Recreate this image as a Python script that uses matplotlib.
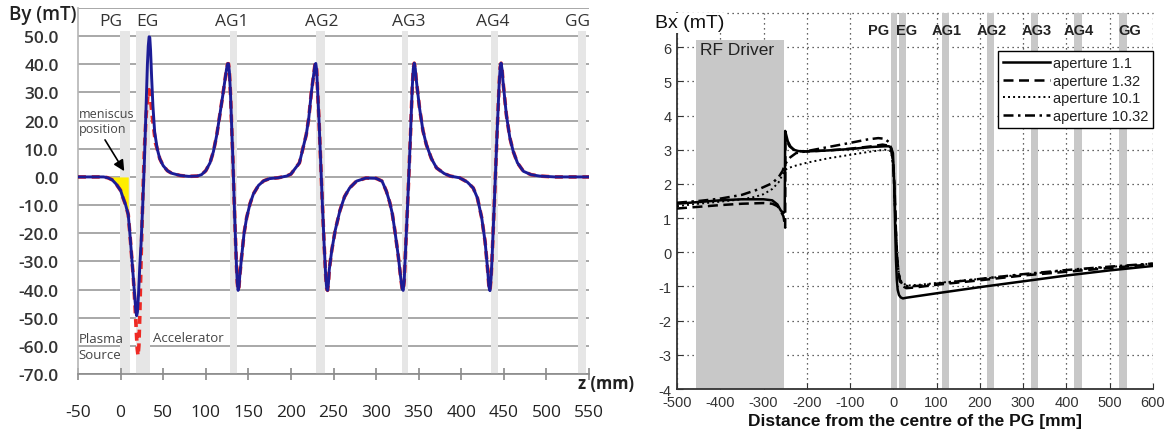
import numpy as np
import matplotlib
matplotlib.use("Agg")
import matplotlib.pyplot as plt
from matplotlib.patches import Rectangle

plt.rcParams['axes.unicode_minus'] = False

# ------------------------- Left panel data (By along z) -------------------------
by_z = [-50, -30, -20, -15, -10, -5, 0, 3, 6, 9, 11, 13, 15, 17, 18, 18.9, 19.8, 21, 22.5,
        24, 26, 28, 30, 31.5, 32.5, 33.5, 34.3, 35.2, 36.5, 38, 40, 43, 46, 50, 55, 60,
        70, 80, 90, 95, 100, 105, 109, 113, 117, 120, 123, 124.5, 125.7, 126.7, 127.7,
        129, 130.5, 132, 134, 136, 137, 138, 139, 140, 142, 145, 148, 152, 156, 162, 168,
        175, 185, 195, 200, 205, 210, 214, 218, 221, 224, 227, 228.2, 229.2, 230.2, 231,
        233, 235, 237, 239, 241, 242, 243, 244, 245, 248, 252, 257.5, 263, 269, 277, 288,
        300, 307, 312, 316, 319, 322, 326, 329, 330.7, 331.8, 333, 334, 337, 340, 342.5,
        343.7, 344.8, 346, 347, 351, 355, 359, 365, 371, 380, 387, 398, 407, 414, 419,
        424, 428, 431, 432.5, 433.7, 435, 436, 439, 442, 444.5, 445.7, 446.8, 448, 449,
        453, 457, 461, 466, 473, 482, 492, 510, 550]
by_blue = [0, 0, 0, -0.3, -1.0, -2.6, -4.8, -7.5, -10.0, -13.4, -20.4, -28, -36, -44, -48,
           -49.3, -48, -42, -32, -24, -10, 6, 25, 40, 46.5, 49.8, 49.5, 45, 35, 25, 16, 10,
           6.5, 4, 2.2, 1.3, 0.5, 0.2, 0.3, 0.8, 2.2, 5, 9, 15, 23, 29, 35.5, 38.5, 40.2,
           40.2, 37.5, 30, 18, 5, -14.5, -31, -37.5, -40.3, -39, -35, -28.7, -20, -14.5,
           -9.5, -6, -3, -1.4, -0.6, -0.3, 0.3, 1, 3, 5, 10, 15, 21, 30, 37, 39.8, 40.3, 38,
           33, 20, 5, -10, -24, -36, -39.5, -40.3, -38, -33, -26, -19, -12, -7, -3.9, -1.5,
           -0.4, -0.5, -1.5, -5, -9, -13, -19, -28, -36, -39.8, -40.3, -37, -30, -10, 12,
           32, 38.5, 40.4, 38.5, 35, 24.5, 16.5, 11.5, 6.5, 3.2, 1.2, 0.3, -0.3, -1.8,
           -3.9, -7.5, -14.5, -23, -33, -39, -40.4, -36, -30, -8, 15, 33, 39, 40.4, 38,
           34, 22, 14, 9.1, 5, 2, 0.8, 0.3, 0, 0]
# red dashed curve differs from blue only around the EG
red_eg_z = [13, 15, 17, 18.5, 19.5, 20.5, 21.5, 22.5, 24, 26, 28, 30, 32, 33.5, 35, 37,
            39, 41, 43]
red_eg_by = [-28, -36, -46, -55, -61, -63.5, -60, -50, -30, -8, 10, 22, 29, 31, 28, 22,
             17, 12, 10]

left_xticks = list(range(-50, 551, 50))
left_yticks = list(range(-70, 61, 10))
left_gap_names = ['PG', 'EG', 'AG1', 'AG2', 'AG3', 'AG4', 'GG']
left_gap_lo = [-0.5, 18, 128, 230, 330, 435, 537]
left_gap_hi = [10.5, 34, 137, 240, 338, 443, 547]
left_label_x = [-12, 32, 130, 236, 338, 437, 536]
meniscus_lo, meniscus_hi = -18, 9.5

# ------------------------- Right panel data (Bx) -------------------------
bx_11_x = [-500, -450, -400, -350, -300, -280, -268, -260, -254, -251, -250, -248, -244,
           -238, -230, -220, -200, -150, -100, -50, -20, -10, -5, -1, 2, 4, 6, 8, 10, 13,
           17, 22, 30, 46, 100, 200, 300, 400, 500, 600]
bx_11_y = [1.42, 1.47, 1.52, 1.55, 1.55, 1.52, 1.4, 1.22, 1.15, 1.2, 3.55, 3.45, 3.25,
           3.1, 3.0, 2.96, 2.95, 2.98, 3.02, 3.08, 3.1, 3.1, 3.05, 2.9, 2.0, 0.8, -0.2,
           -0.8, -1.1, -1.25, -1.32, -1.35, -1.33, -1.3, -1.2, -1.02, -0.85, -0.68, -0.53,
           -0.4]
bx_132_x = [-500, -450, -400, -350, -300, -280, -268, -260, -254, -252, -250, -249.5, -246,
            -240, -230, -220, -200, -150, -100, -50, -25, -12, -5, 0, 3, 6, 9, 12, 15, 20,
            30, 50, 100, 200, 300, 400, 500, 600]
bx_132_y = [1.28, 1.33, 1.38, 1.42, 1.44, 1.42, 1.35, 1.2, 1.05, 0.9, 0.72, 3.3, 3.25,
            3.1, 3.0, 2.96, 2.95, 2.98, 3.03, 3.1, 3.15, 3.12, 3.0, 2.6, 1.8, 0.6, -0.2,
            -0.6, -0.85, -0.98, -1.05, -1.03, -0.95, -0.82, -0.68, -0.57, -0.46, -0.35]
bx_101_x = [-500, -450, -400, -350, -320, -300, -280, -265, -255, -251, -245, -230, -200,
            -150, -100, -50, -20, -8, -3, 0, 3, 6, 9, 12, 16, 22, 35, 60, 100, 200, 300,
            400, 500, 600]
bx_101_y = [1.35, 1.42, 1.48, 1.55, 1.62, 1.7, 1.85, 2.05, 2.3, 2.4, 2.45, 2.52, 2.62,
            2.75, 2.85, 2.95, 3.0, 2.98, 2.8, 2.4, 1.5, 0.5, -0.2, -0.55, -0.8, -0.92,
            -0.97, -0.95, -0.9, -0.78, -0.65, -0.53, -0.43, -0.33]
bx_1032_x = [-500, -450, -400, -350, -310, -280, -265, -256, -251, -245, -238, -225, -200,
             -150, -100, -60, -35, -20, -10, -4, 0, 3, 6, 9, 12, 16, 22, 35, 60, 100, 200,
             300, 400, 500, 600]
bx_1032_y = [1.45, 1.5, 1.57, 1.68, 1.85, 2.02, 2.2, 2.38, 2.55, 2.68, 2.78, 2.9, 2.96,
             3.08, 3.2, 3.3, 3.34, 3.32, 3.22, 3.0, 2.5, 1.6, 0.6, -0.2, -0.6, -0.85,
             -0.95, -1.0, -0.98, -0.92, -0.78, -0.64, -0.52, -0.42, -0.33]
right_labels = ['aperture 1.1', 'aperture 1.32', 'aperture 10.1', 'aperture 10.32']
right_gap_names = ['PG', 'EG', 'AG1', 'AG2', 'AG3', 'AG4', 'GG']
right_gap_lo = [-5, 13, 112, 216, 318, 418, 521]
right_gap_hi = [8, 29, 128, 232, 334, 436, 540]
right_label_x = [-34, 31, 124, 228, 332, 429, 547]
rf_lo, rf_hi, rf_top = -455, -253, 6.2

# ------------------------- Figure -------------------------
fig = plt.figure(figsize=(11.7, 4.35), dpi=100)

# ===== Left panel =====
LF = 'Open Sans'
ax = fig.add_axes([78 / 1170, 1 - 375 / 435, (589 - 78) / 1170, (375 - 9) / 435])
ax.set_xlim(-50, 550)
ax.set_ylim(-70, 60)
for s in ['top', 'right']:
    ax.spines[s].set_visible(False)
ax.spines['left'].set_color('#b5b5b5')
ax.spines['left'].set_linewidth(1.2)
ax.spines['bottom'].set_color('#8a8a8a')
ax.spines['bottom'].set_linewidth(1.2)
for v in left_yticks:
    ax.axhline(v, color='#9a9a9a', lw=1.2, zorder=1)

for lo, hi in zip(left_gap_lo, left_gap_hi):
    ax.add_patch(Rectangle((lo, -70), hi - lo, 122, facecolor='#e6e6e6',
                           edgecolor='none', zorder=1.5))
for name, xl in zip(left_gap_names, left_label_x):
    ax.text(xl, 55.5, name, ha='center', va='center', fontsize=12.5,
            family=LF, color='#333333', zorder=5)

bz = np.array(by_z, dtype=float)
bb = np.array(by_blue, dtype=float)
# meniscus region
m = (bz >= meniscus_lo) & (bz <= meniscus_hi)
ax.fill_between(bz[m], 0, bb[m], color='#ffee00', zorder=2, linewidth=0)

rz_lo, rz_hi = red_eg_z[0], red_eg_z[-1]
red_z = [z for z in by_z if z < rz_lo] + red_eg_z + [z for z in by_z if z > rz_hi]
red_b = [b for z, b in zip(by_z, by_blue) if z < rz_lo] + red_eg_by + \
        [b for z, b in zip(by_z, by_blue) if z > rz_hi]
ax.plot(red_z, red_b, color='#ee2a24', lw=2.6, ls=(0, (2.2, 1.6)), zorder=3)
ax.plot(by_z, by_blue, color='#1c1c96', lw=2.1, zorder=4, solid_joinstyle='round')

ax.set_xticks(left_xticks)
ax.set_xticklabels([str(v) for v in left_xticks])
ax.set_yticks(left_yticks)
ax.set_yticklabels(['%.1f' % v if v <= 50 else '' for v in left_yticks])
ax.tick_params(axis='x', direction='inout', length=9, width=1.2, color='#8a8a8a',
               pad=17, labelsize=12.5, labelcolor='#222222')
ax.tick_params(axis='y', length=0, pad=14, labelsize=12.5, labelcolor='#333333')
for t in ax.get_xticklabels():
    t.set_family(LF)
for t in ax.get_yticklabels():
    t.set_family(LF)
    t.set_fontweight('semibold')

ax.annotate('', xy=(6, 1.2), xytext=(-20, 14),
            arrowprops=dict(arrowstyle='-|>', color='black', lw=1.2,
                            mutation_scale=16), zorder=6)
ax.text(-49, 19.8, 'meniscus\nposition', ha='left', va='center', fontsize=9,
        family=LF, color='#444444', linespacing=1.25)
ax.text(-49, -60.2, 'Plasma\nSource', ha='left', va='center', fontsize=9.5,
        family=LF, color='#444444', linespacing=1.3)
ax.text(38, -57, 'Accelerator', ha='left', va='center', fontsize=9.5,
        family=LF, color='#444444')
ax.text(537, -73.2, 'z (mm)', ha='left', va='center', fontsize=12,
        family=LF, fontweight='bold', color='#222222', clip_on=False)
fig.text(9 / 1170, 1 - 15 / 435, 'By (mT)', ha='left', va='center', fontsize=13.5,
         family=LF, fontweight='semibold', color='#222222')

# ===== Right panel =====
RF = 'Liberation Sans'
ax2 = fig.add_axes([677 / 1170, 1 - 390 / 435, (1153 - 677) / 1170, (390 - 14) / 435])
ax2.set_xlim(-500, 600)
ax2.set_ylim(-4, 7)
ax2.set_axisbelow(True)
for s in ['top', 'right']:
    ax2.spines[s].set_visible(False)
for s in ['left', 'bottom']:
    ax2.spines[s].set_color('#333333')
    ax2.spines[s].set_linewidth(1.3)
ax2.set_xticks(list(range(-500, 601, 100)))
ax2.set_yticks(list(range(-4, 7)))
ax2.grid(True, ls=(0, (1, 3)), color='#333333', lw=0.9)
ax2.axhline(7, ls=(0, (1, 3)), color='#333333', lw=0.9, clip_on=False, zorder=0.5)
ax2.tick_params(direction='in', length=4, color='#333333', labelsize=10.5,
                labelcolor='#333333')
ax2.tick_params(axis='x', pad=4)
ax2.tick_params(axis='y', pad=4)
for t in ax2.get_xticklabels() + ax2.get_yticklabels():
    t.set_family(RF)

ax2.add_patch(Rectangle((rf_lo, -4), rf_hi - rf_lo, rf_top + 4, facecolor='#c8c8c8',
                        edgecolor='none', zorder=1.6))
ax2.text(rf_lo + 8, 5.93, 'RF Driver', ha='left', va='center', fontsize=12.5,
         family=RF, color='#222222', zorder=3)
for lo, hi in zip(right_gap_lo, right_gap_hi):
    ax2.axvspan(lo, hi, facecolor='#c8c8c8', edgecolor='none', zorder=1.6)
for name, xl in zip(right_gap_names, right_label_x):
    ax2.text(xl, 6.5, name, ha='center', va='center', fontsize=10.5,
             family=RF, fontweight='bold', color='#222222', zorder=4)

l1, = ax2.plot(bx_11_x, bx_11_y, color='black', lw=1.8, ls='-', zorder=5)
l2, = ax2.plot(bx_132_x, bx_132_y, color='black', lw=1.8, ls=(0, (4, 2.2)), zorder=5)
l3, = ax2.plot(bx_101_x, bx_101_y, color='black', lw=1.4, ls=(0, (1, 1.6)), zorder=5)
l4, = ax2.plot(bx_1032_x, bx_1032_y, color='black', lw=1.8, ls=(0, (4, 1.8, 1, 1.8)),
               zorder=5)
leg = ax2.legend([l1, l2, l3, l4], right_labels, loc='upper right',
                 bbox_to_anchor=(1.0, (390 - 52) / 376), fancybox=False,
                 framealpha=1, edgecolor='black', handlelength=3.2, handletextpad=0.2,
                 borderpad=0.35, labelspacing=0.25, borderaxespad=0,
                 prop={'family': RF, 'size': 10.5})
leg.get_frame().set_linewidth(1.0)
leg.set_zorder(6)
for t in leg.get_texts():
    t.set_color('#222222')

ax2.set_xlabel('Distance from the centre of the PG [mm]', family=RF, fontweight='bold',
               fontsize=12.5, color='#111111', labelpad=3)
fig.text(655 / 1170, 1 - 24 / 435, 'Bx (mT)', ha='left', va='center', fontsize=14,
         family=RF, color='#111111',
         bbox=dict(facecolor='white', edgecolor='none', pad=1))

fig.savefig('out.png', dpi=100, facecolor='white')
